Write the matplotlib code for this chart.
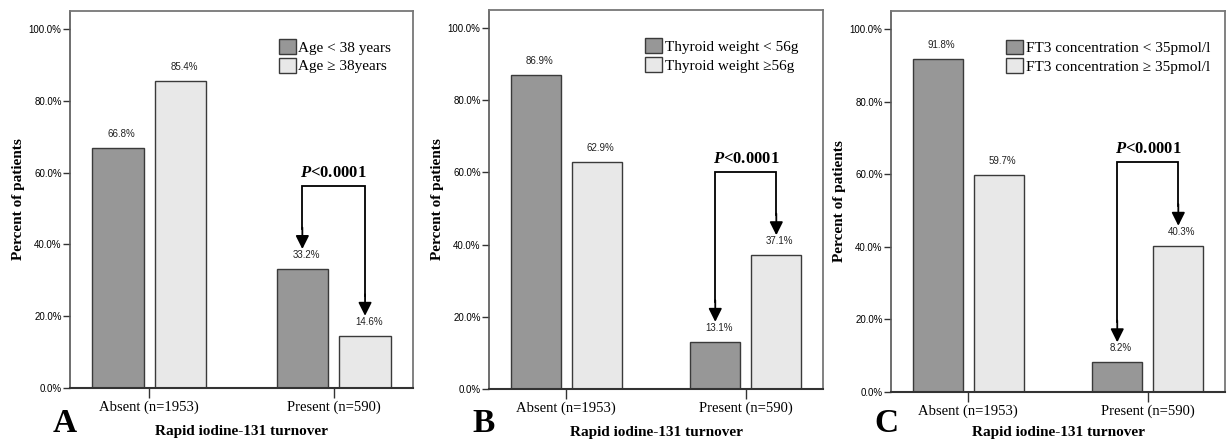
import numpy as np
import matplotlib.pyplot as plt
from matplotlib.patches import Patch

# data
categories = ["Absent (n=1953)", "Present (n=590)"]
panel_letters = ["A", "B", "C"]
legend_low = ["Age < 38 years", "Thyroid weight < 56g", "FT3 concentration < 35pmol/l"]
legend_high = ["Age \u2265 38years", "Thyroid weight \u226556g", "FT3 concentration \u2265 35pmol/l"]
low_values = [[66.8, 33.2], [86.9, 13.1], [91.8, 8.2]]
high_values = [[85.4, 14.6], [62.9, 37.1], [59.7, 40.3]]
p_text = "$\\mathbfit{P}$<0.0001"

dark = "#979797"
light = "#e8e8e8"
edge = "#3a3a3a"

plt.rcParams['font.family'] = ['Liberation Serif', 'DejaVu Serif']
plt.rcParams['mathtext.fontset'] = 'custom'
plt.rcParams['mathtext.bfit'] = 'Liberation Serif:bold:italic'

fig = plt.figure(figsize=(12.27, 4.41), dpi=100)
W, H = 1227.0, 441.0
# axes boxes in pixels: left, right, top, bottom
boxes = [(70, 413, 11, 388), (489, 823, 10, 389), (891, 1225, 11, 392)]
legend_right = [0.935, 0.925, 0.955]

x = np.arange(len(categories))
bw = 0.28
off = 0.17

for i, (l, r, t, b) in enumerate(boxes):
    ax = fig.add_axes([l / W, 1 - b / H, (r - l) / W, (b - t) / H])
    lo = low_values[i]
    hi = high_values[i]
    ax.bar(x - off, lo, bw, color=dark, edgecolor=edge, linewidth=1.0, zorder=2)
    ax.bar(x + off, hi, bw, color=light, edgecolor=edge, linewidth=1.0, zorder=2)
    for xx, v in zip(x - off, lo):
        ax.text(xx + 0.02, v + 2.5, f"{v:.1f}%", ha='center', va='bottom',
                fontsize=7, family='Liberation Sans', color='#222222')
    for xx, v in zip(x + off, hi):
        ax.text(xx + 0.02, v + 2.5, f"{v:.1f}%", ha='center', va='bottom',
                fontsize=7, family='Liberation Sans', color='#222222')

    ax.set_ylim(0, 105)
    ax.set_xlim(-0.43, 1.43)
    ax.set_yticks(np.arange(0, 101, 20))
    ax.set_yticklabels([f"{v:.1f}%" for v in np.arange(0, 101, 20)],
                       family='Liberation Sans', fontsize=7)
    ax.set_xticks(x)
    ax.set_xticklabels(categories, fontsize=10.5)
    ax.tick_params(axis='y', length=5, width=1.0, color='#333333', pad=1)
    ax.tick_params(axis='x', length=7, width=1.0, color='#333333', pad=2)
    for s in ['top', 'right']:
        ax.spines[s].set_color('#777777')
        ax.spines[s].set_linewidth(1.3)
    ax.spines['left'].set_color('#555555')
    ax.spines['left'].set_linewidth(1.2)
    ax.spines['bottom'].set_color('#333333')
    ax.spines['bottom'].set_linewidth(1.5)

    ax.set_ylabel("Percent of patients", fontsize=11, fontweight='bold', labelpad=3)
    ax.set_xlabel("Rapid iodine-131 turnover", fontsize=11, fontweight='bold',
                  labelpad=8 if i < 2 else 6)

    # significance bracket with arrows
    top = max(lo[1], hi[1]) + 23
    xl, xr = x[1] - off, x[1] + off
    ax.plot([xl, xl, xr, xr], [lo[1] + 11, top, top, hi[1] + 11],
            color='black', lw=1.3, zorder=3, solid_joinstyle='miter')
    for xx, v in [(xl, lo[1]), (xr, hi[1])]:
        ax.annotate("", xy=(xx, v + 5.5), xytext=(xx, v + 11.5),
                    arrowprops=dict(arrowstyle='-|>', color='black', lw=1.3,
                                    mutation_scale=20, shrinkA=0, shrinkB=0))
    ax.text(x[1], top + 1.5, p_text, ha='center', va='bottom',
            fontsize=12, fontweight='bold')

    handles = [Patch(facecolor=dark, edgecolor=edge, label=legend_low[i]),
               Patch(facecolor=light, edgecolor=edge, label=legend_high[i])]
    ax.legend(handles=handles, loc='upper right',
              bbox_to_anchor=(legend_right[i], 0.925),
              frameon=False, fontsize=11, handlelength=1.1, handleheight=1.1,
              handletextpad=0.15, labelspacing=0.2, borderaxespad=0, borderpad=0)

    fig.text((l - 5) / W, 1 - 423 / H, panel_letters[i], fontsize=24,
             fontweight='bold', ha='center', va='center')

fig.savefig("out.png", dpi=100)
